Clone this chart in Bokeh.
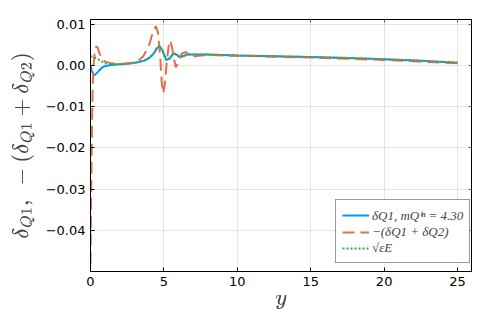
import numpy as np
from bokeh.plotting import figure
from bokeh.models import Range1d, FixedTicker, LinearAxis, Legend, LegendItem
from bokeh.embed import file_html
from bokeh.resources import INLINE

# ---- data ----
x_dq1 = [0, 0.1, 0.2, 0.27, 0.4, 0.6, 0.8, 1.0, 1.3, 1.7, 2.2, 2.8, 3.3, 3.7, 4.0, 4.3,
         4.5, 4.7, 4.9, 5.15, 5.4, 5.65, 5.9, 6.06, 6.3, 6.6, 7.0, 7.5, 8.0, 10.0, 12.5,
         15.0, 17.5, 20.0, 22.5, 25.0]
y_dq1 = [0.0, -0.0015, -0.0022, -0.0024, -0.0020, -0.0012, -0.0005, -0.0002, 0.0000,
         0.0002, 0.0003, 0.0005, 0.0008, 0.0012, 0.0018, 0.0028, 0.0040, 0.0047, 0.0036,
         0.0013, 0.0017, 0.0029, 0.0025, 0.0020, 0.0022, 0.0026, 0.0026, 0.0026, 0.0026,
         0.0024, 0.0022, 0.0020, 0.0018, 0.0015, 0.0011, 0.00065]

x_sum = [0, 0.05, 0.1, 0.15, 0.2, 0.3, 0.4, 0.5, 0.6, 0.8, 1.0, 1.3, 1.7, 2.2, 2.8, 3.2,
         3.6, 4.0, 4.25, 4.45, 4.6, 4.75, 4.85, 4.95, 5.05, 5.2, 5.35, 5.45, 5.6, 5.8,
         5.95, 6.2, 6.5, 6.8, 7.1, 7.5, 8.0, 10.0, 12.5, 15.0, 17.5, 20.0, 22.5, 25.0]
y_sum = [-0.048, -0.030, -0.015, -0.005, 0.0, 0.0035, 0.0046, 0.0042, 0.0030, 0.0015,
         0.0009, 0.0006, 0.0004, 0.0004, 0.0006, 0.0010, 0.0022, 0.0050, 0.0080, 0.0095,
         0.0080, 0.0020, -0.0040, -0.0068, -0.0050, 0.0010, 0.0055, 0.0060, 0.0035,
         -0.0005, 0.0005, 0.0028, 0.0032, 0.0026, 0.0022, 0.0024, 0.0025, 0.0023, 0.0021,
         0.0019, 0.0016, 0.0013, 0.0009, 0.0005]

x_eps = [0, 0.2, 0.4, 0.68, 0.9, 1.2, 1.7, 2.2, 2.8, 3.3, 3.7, 4.0, 4.3, 4.5, 4.7, 4.9,
         5.15, 5.4, 5.65, 5.9, 6.06, 6.3, 6.6, 7.0, 7.5, 8.0, 10.0, 12.5, 15.0, 17.5,
         20.0, 22.5, 25.0]
y_eps = [0.0022, 0.0020, 0.0017, 0.0012, 0.0006, 0.0003, 0.0002, 0.0003, 0.0005, 0.0008,
         0.0012, 0.0018, 0.0028, 0.0040, 0.0047, 0.0036, 0.0013, 0.0017, 0.0029, 0.0025,
         0.0020, 0.0022, 0.0026, 0.0026, 0.0026, 0.0026, 0.0024, 0.0022, 0.0020, 0.0018,
         0.0015, 0.0011, 0.00065]

x_ticks = [0, 5, 10, 15, 20, 25]
x_tick_labels = ["0", "5", "10", "15", "20", "25"]
y_ticks = [0.01, 0.0, -0.01, -0.02, -0.03, -0.04]
y_tick_labels = ["0.01", "0.00", "\u22120.01", "\u22120.02", "\u22120.03", "\u22120.04"]

labels = ["\u03b4Q1, mQ\u2071\u207f = 4.30", "\u2212(\u03b4Q1 + \u03b4Q2)", "\u221a\u03b5E"]

BLUE = "#009AFA"
ORANGE = "#E36F47"
GREEN = "#3EA44E"

p = figure(width=490, height=326, output_backend="svg", toolbar_location=None,
           x_range=Range1d(0, 25.95), y_range=Range1d(-0.0499, 0.0111),
           min_border_left=90, min_border_right=19, min_border_top=19, min_border_bottom=55)
p.background_fill_color = "white"
p.border_fill_color = "white"
p.outline_line_color = "black"
p.outline_line_width = 1

r1 = p.line(x_dq1, y_dq1, line_color=BLUE, line_width=2)
r2 = p.line(x_sum, y_sum, line_color=ORANGE, line_width=2, line_dash="12 6")
r3 = p.line(x_eps, y_eps, line_color=GREEN, line_width=2, line_dash="2 2")

p.xaxis.ticker = FixedTicker(ticks=x_ticks)
p.xaxis.major_label_overrides = dict(zip(x_ticks, x_tick_labels))
p.yaxis.ticker = FixedTicker(ticks=y_ticks)
p.yaxis.major_label_overrides = dict(zip(y_ticks, y_tick_labels))

for ax in (p.xaxis[0], p.yaxis[0]):
    ax.major_tick_in = 4
    ax.major_tick_out = 0
    ax.minor_tick_line_color = None
    ax.axis_line_color = "black"
    ax.major_tick_line_color = "black"
    ax.major_label_text_font = "DejaVu Sans"
    ax.major_label_text_font_size = "13px"
    ax.major_label_text_color = "black"
    ax.major_label_standoff = 5
    ax.axis_label_text_font_size = "18px"
    ax.axis_label_text_font_style = "normal"

p.xaxis.axis_label = r"$$y$$"
p.yaxis.axis_label = r"$$\delta_{Q1},\ -(\delta_{Q1}+\delta_{Q2})$$"
p.xaxis.axis_label_standoff = 6
p.yaxis.axis_label_standoff = 8

top = LinearAxis(ticker=FixedTicker(ticks=x_ticks),
                 major_label_overrides={t: "" for t in x_ticks},
                 major_tick_in=3, major_tick_out=0, minor_tick_line_color=None,
                 major_tick_line_color="#666666",
                 axis_line_color="black", major_label_standoff=0)
right = LinearAxis(ticker=FixedTicker(ticks=y_ticks),
                   major_label_overrides={t: "" for t in y_ticks},
                   major_tick_in=3, major_tick_out=0, minor_tick_line_color=None,
                   major_tick_line_color="#666666",
                   axis_line_color="black", major_label_standoff=0)
p.add_layout(top, "above")
p.add_layout(right, "right")

p.xgrid.ticker = FixedTicker(ticks=x_ticks)
p.ygrid.ticker = FixedTicker(ticks=y_ticks)
p.grid.grid_line_color = "black"
p.grid.grid_line_alpha = 0.1
p.grid.grid_line_width = 1

legend = Legend(items=[LegendItem(label=labels[0], renderers=[r1]),
                       LegendItem(label=labels[1], renderers=[r2]),
                       LegendItem(label=labels[2], renderers=[r3])],
                location=(245, 8))
legend.padding = 6
legend.spacing = 0
legend.margin = 0
legend.label_height = 16
legend.glyph_height = 16
legend.glyph_width = 27
legend.label_standoff = 3
legend.label_text_font = "Liberation Serif"
legend.label_text_font_style = "italic"
legend.label_text_font_size = "13px"
legend.border_line_color = "#333333"
legend.border_line_width = 1
legend.background_fill_color = "white"
legend.background_fill_alpha = 1
p.add_layout(legend, "center")

open("out.html", "w").write(file_html(p, INLINE))
